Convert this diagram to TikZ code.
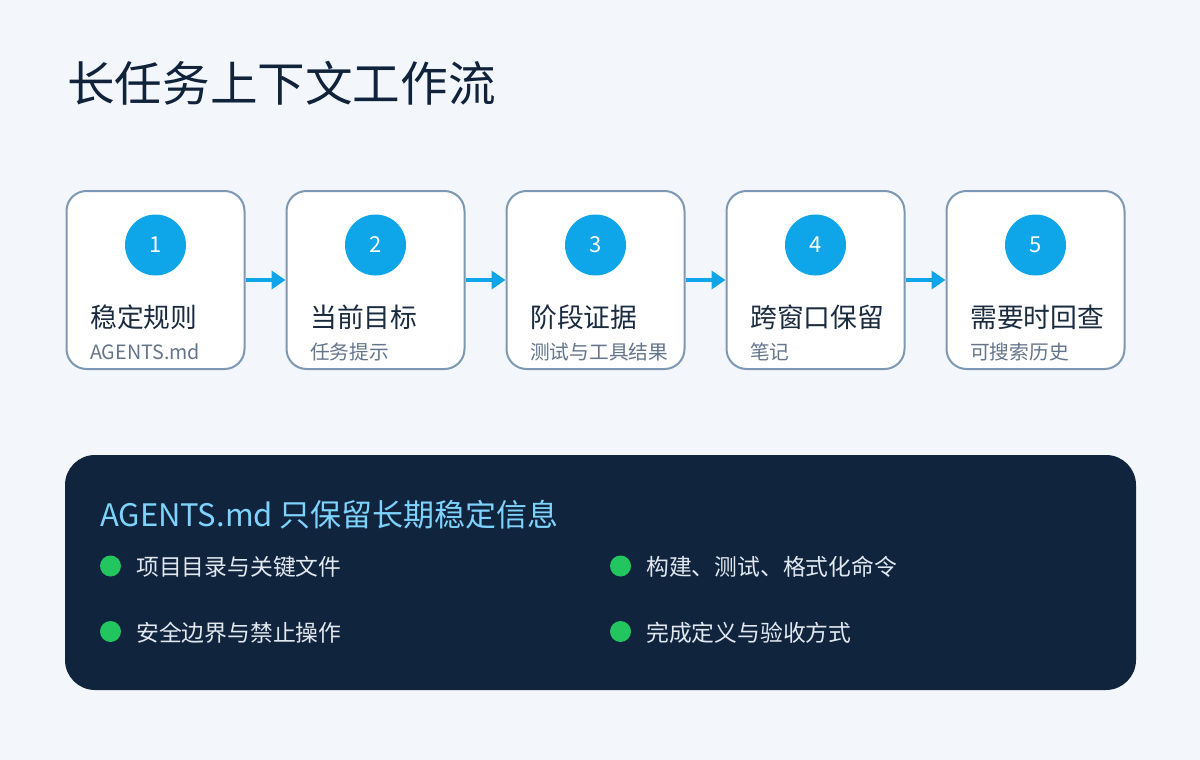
\documentclass[tikz,border=0pt]{standalone}
\usepackage{fontspec}
\setmainfont{Noto Sans CJK SC}
\usetikzlibrary{arrows.meta}
\definecolor{bg}{HTML}{F3F7FB}
\definecolor{boxborder}{HTML}{7D98B3}
\definecolor{titlecol}{HTML}{10233A}
\definecolor{steptitle}{HTML}{1B2B3F}
\definecolor{stepsub}{HTML}{64748B}
\definecolor{sky}{HTML}{0EA5E9}
\definecolor{panelcol}{HTML}{10243D}
\definecolor{paneltitle}{HTML}{7DD3FC}
\definecolor{bulletgreen}{HTML}{22C55E}
\definecolor{bullettext}{HTML}{E2E8F0}
\tikzset{
  stepbox/.style={draw=boxborder, line width=2pt, fill=white, rounded corners=20pt,
    minimum width=178pt, minimum height=178pt, inner sep=0pt},
  numcircle/.style={circle, fill=sky, minimum size=61pt, inner sep=0pt,
    text=white, font=\fontsize{22}{24}\selectfont},
  steptitlestyle/.style={anchor=base west, inner sep=0pt, text=steptitle,
    font=\fontsize{26.8}{28}\selectfont},
  stepsubstyle/.style={anchor=base west, inner sep=0pt, text=stepsub,
    font=\fontsize{19.7}{21}\selectfont},
  flowarrow/.style={draw=sky, line width=4pt, -{Triangle[length=14pt,width=18pt]}},
  bulletdot/.style={circle, fill=bulletgreen, minimum size=21pt, inner sep=0pt},
  bullettextstyle/.style={anchor=base west, inner sep=0pt, text=bullettext,
    font=\fontsize{22.8}{24}\selectfont},
}
\begin{document}
\begin{tikzpicture}[x=1pt, y=-1pt]
\useasboundingbox (0,0) rectangle (1200,760);
\fill[bg] (0,0) rectangle (1200,760);

\node[anchor=base west, inner sep=0pt, text=titlecol, font=\fontsize{47.6}{50}\selectfont]
  (title) at (67,102) {长任务上下文工作流};

% step boxes
\foreach \i/\t/\s in {1/稳定规则/AGENTS.md, 2/当前目标/任务提示, 3/阶段证据/测试与工具结果, 4/跨窗口保留/笔记, 5/需要时回查/可搜索历史}{
  \pgfmathsetmacro{\cx}{155.5+220*(\i-1)}
  \pgfmathsetmacro{\tx}{90+220*(\i-1)}
  \node[stepbox] (b\i) at (\cx,280) {};
  \node[numcircle] (c\i) at (\cx,245) {\i};
  \node[steptitlestyle] (t\i) at (\tx,327) {\t};
  \node[stepsubstyle] (s\i) at (\tx,359) {\s};
}
\foreach \a/\b in {1/2,2/3,3/4,4/5}{
  \draw[flowarrow] (b\a.east) -- (b\b.west);
}

% panel
\node[fill=panelcol, rounded corners=30pt, minimum width=1071pt, minimum height=235pt, inner sep=0pt]
  (panel) at (600.5,572.5) {};
\node[anchor=base west, inner sep=0pt, text=paneltitle, font=\fontsize{31}{32}\selectfont]
  (ptitle) at (100,526) {AGENTS.md 只保留长期稳定信息};

\node[bulletdot] (d1) at (110.5,566) {};
\node[bullettextstyle] (l1) at (136,575.5) {项目目录与关键文件};
\node[bulletdot] (d2) at (110.5,631.5) {};
\node[bullettextstyle] (l2) at (136,641) {安全边界与禁止操作};
\node[bulletdot] (d3) at (620.5,566) {};
\node[bullettextstyle] (l3) at (646,575.5) {构建、测试、格式化命令};
\node[bulletdot] (d4) at (620.5,631.5) {};
\node[bullettextstyle] (l4) at (646,641) {完成定义与验收方式};
\end{tikzpicture}
\end{document}
